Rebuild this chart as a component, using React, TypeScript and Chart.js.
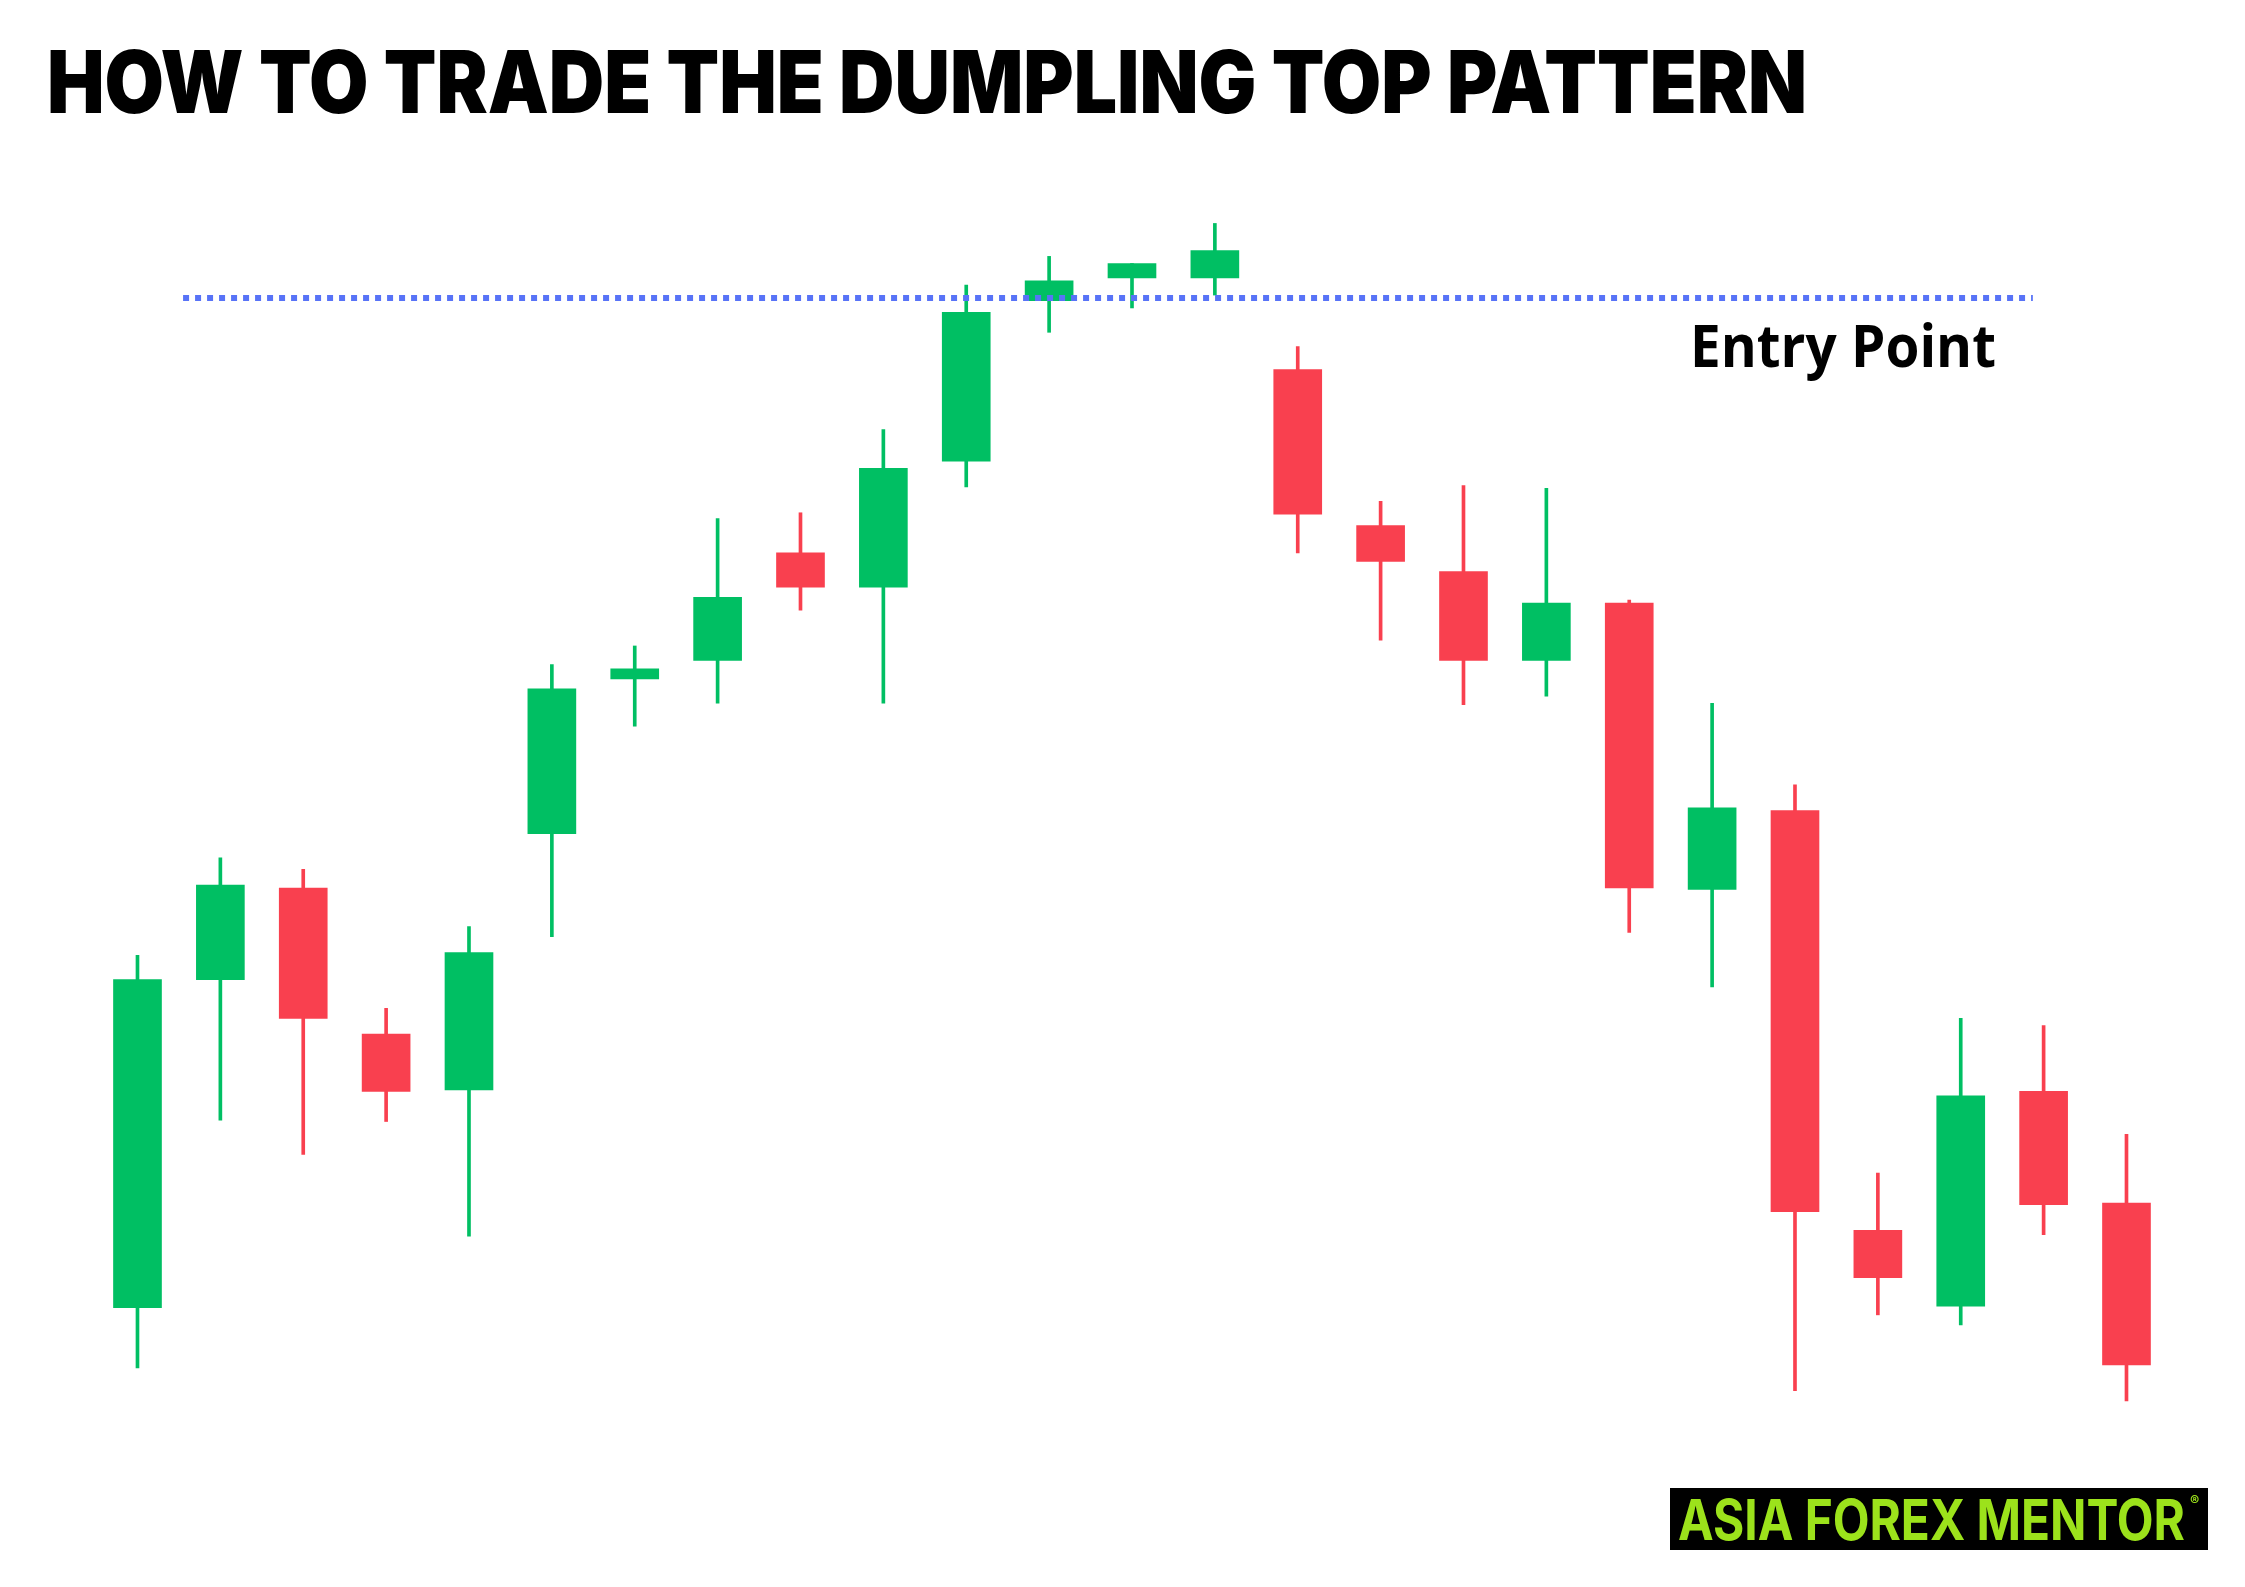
import React, { useEffect, useLayoutEffect, useRef } from "react";
import { Chart, registerables } from "chart.js";

Chart.register(...registerables);

// ---- data (price units; higher = up) ----
const candleIndex = [0, 1, 2, 3, 4, 5, 6, 7, 8, 9, 10, 11, 12, 13, 14, 15, 16, 17, 18, 19, 20, 21, 22, 23, 24];
const opens = [195, 424, 488, 386, 347, 526, 634, 647, 722, 698, 786, 898, 914, 914, 850, 741, 709, 647, 687, 487, 542, 249, 196, 346, 268];
const closes = [424, 490, 397, 346, 443, 627, 641, 691, 698, 781, 890, 912, 924, 933, 749, 716, 647, 687, 488, 544, 262, 216, 343, 267, 155];
const highs = [441, 509, 501, 404, 461, 644, 657, 746, 750, 808, 909, 929, 924, 952, 866, 758, 769, 767, 689, 617, 560, 289, 397, 392, 316];
const lows = [153, 326, 302, 325, 245, 454, 601, 617, 682, 617, 768, 876, 893, 902, 722, 661, 616, 622, 457, 419, 137, 190, 183, 246, 130];

const entryLevel = 900;
const entryStart = 0.55;
const entryEnd = 22.87;

const titleText = "HOW TO TRADE THE DUMPLING TOP PATTERN";
const entryLabel = "Entry Point";
const brandText = "ASIA FOREX MENTOR";

const GREEN = "#00BF63";
const RED = "#F9404F";
const BLUE = "#5873F7";

const W = 2245;
const H = 1587;

function FitText(props: {
  text: string;
  left: number;
  top: number;
  width: number;
  fontSize: number;
  fontFamily: string;
  fontWeight: number;
  color: string;
}) {
  const ref = useRef<HTMLSpanElement | null>(null);
  useLayoutEffect(() => {
    const el = ref.current;
    if (!el) return;
    const fit = () => {
      el.style.transform = "none";
      const w = el.getBoundingClientRect().width;
      if (w > 0) el.style.transform = `scaleX(${props.width / w})`;
    };
    fit();
    if ((document as any).fonts && (document as any).fonts.ready) {
      (document as any).fonts.ready.then(fit);
    }
  }, [props.text, props.width, props.fontSize]);
  return (
    <span
      ref={ref}
      style={{
        position: "absolute",
        left: props.left,
        top: props.top,
        fontSize: props.fontSize,
        lineHeight: 1,
        fontFamily: props.fontFamily,
        fontWeight: props.fontWeight,
        color: props.color,
        whiteSpace: "nowrap",
        transformOrigin: "0 0",
        display: "inline-block",
      }}
    >
      {props.text}
    </span>
  );
}

export default function App() {
  const canvasRef = useRef<HTMLCanvasElement | null>(null);

  useEffect(() => {
    const canvas = canvasRef.current;
    if (!canvas) return;
    const colors = candleIndex.map((i) => (closes[i] >= opens[i] ? GREEN : RED));
    const chart = new Chart(canvas, {
      type: "bar",
      data: {
        datasets: [
          {
            type: "line",
            label: "Entry",
            data: [
              { x: entryStart, y: entryLevel },
              { x: entryEnd, y: entryLevel },
            ],
            borderColor: BLUE,
            borderWidth: 6,
            borderDash: [6, 6],
            borderCapStyle: "butt",
            pointRadius: 0,
            fill: false,
            order: 0,
          } as any,
          {
            type: "bar",
            label: "Body",
            data: candleIndex.map((i) => ({ x: i, y: [opens[i], closes[i]] })),
            backgroundColor: colors,
            borderWidth: 0,
            barThickness: 48,
            grouped: false,
            order: 1,
          } as any,
          {
            type: "bar",
            label: "Wick",
            data: candleIndex.map((i) => ({ x: i, y: [lows[i], highs[i]] })),
            backgroundColor: colors,
            borderWidth: 0,
            barThickness: 3,
            grouped: false,
            order: 2,
          } as any,
        ],
      },
      options: {
        responsive: false,
        maintainAspectRatio: false,
        devicePixelRatio: 1,
        animation: false,
        events: [],
        layout: { padding: 0 },
        plugins: {
          legend: { display: false },
          title: { display: false },
          tooltip: { enabled: false },
        },
        scales: {
          x: { type: "linear", min: -1.659, max: 25.43, display: false, offset: false },
          y: { type: "linear", min: 0, max: 1108, display: false },
        },
      },
    });
    return () => chart.destroy();
  }, []);

  return (
    <div style={{ position: "absolute", left: 0, top: 0, width: W, height: H, background: "#ffffff", overflow: "hidden" }}>
      <canvas ref={canvasRef} width={W} height={H} style={{ position: "absolute", left: 0, top: 0, width: W, height: H }} />
      <FitText
        text={titleText}
        left={47}
        top={39}
        width={1760}
        fontSize={86}
        fontFamily="Inter, 'Noto Sans', sans-serif"
        fontWeight={900}
        color="#000000"
      />
      <FitText
        text={entryLabel}
        left={1690}
        top={315}
        width={306}
        fontSize={59}
        fontFamily="'Open Sans', 'Noto Sans', sans-serif"
        fontWeight={700}
        color="#000000"
      />
      <div style={{ position: "absolute", left: 1670, top: 1488, width: 538, height: 62, background: "#000000" }} />
      <FitText
        text={brandText}
        left={1678}
        top={1492}
        width={507}
        fontSize={56}
        fontFamily="Inter, 'Noto Sans', sans-serif"
        fontWeight={700}
        color="#9CE21B"
      />
      <span
        style={{
          position: "absolute",
          left: 2190,
          top: 1494,
          fontSize: 14,
          lineHeight: 1,
          fontFamily: "Inter, sans-serif",
          fontWeight: 700,
          color: "#9CE21B",
        }}
      >
        ®
      </span>
    </div>
  );
}
